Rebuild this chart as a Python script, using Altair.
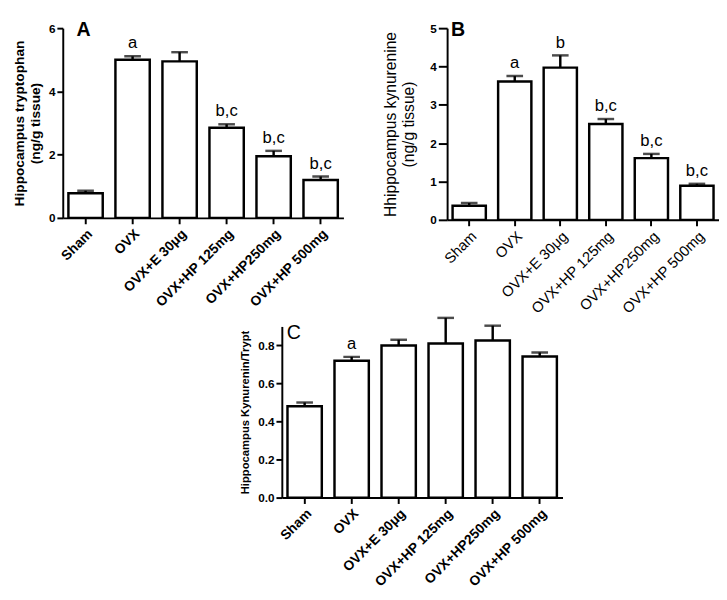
import altair as alt
import pandas as pd

cats = ["Sham", "OVX", "OVX+E 30μg", "OVX+HP 125mg", "OVX+HP250mg", "OVX+HP 500mg"]

a_mean = [0.78, 5.00, 4.95, 2.85, 1.95, 1.20]
a_sem = [0.08, 0.11, 0.29, 0.11, 0.17, 0.11]
a_sig = ["", "a", "", "b,c", "b,c", "b,c"]

b_mean = [0.37, 3.61, 3.97, 2.50, 1.61, 0.89]
b_sem = [0.07, 0.14, 0.32, 0.13, 0.11, 0.05]
b_sig = ["", "a", "b", "b,c", "b,c", "b,c"]

c_mean = [0.48, 0.72, 0.80, 0.81, 0.826, 0.742]
c_sem = [0.02, 0.02, 0.03, 0.135, 0.078, 0.021]
c_sig = ["", "a", "", "", "", ""]

FONT = "Liberation Sans"


def make_df(mean, sem, sig):
    return pd.DataFrame({
        "cat": cats,
        "mean": mean,
        "upper": [m + s for m, s in zip(mean, sem)],
        "sig": sig,
    })


def panel(df, ytitle, domain, tick_vals, fmt, letter, w, h,
          title_size, title_weight, title_pad, ytick, label_weight, label_size,
          letter_size, letter_weight, letter_x, letter_y):
    xenc = alt.X("cat:N", sort=cats, title=None,
                 scale=alt.Scale(paddingInner=0.27, paddingOuter=0.12),
                 axis=alt.Axis(labelAngle=-45, labelFont=FONT, labelFontSize=label_size,
                               labelFontWeight=label_weight, labelColor="black",
                               domainColor="black", domainWidth=2, tickColor="black",
                               tickWidth=2, tickSize=6, labelPadding=3, grid=False,
                               labelLimit=200))
    yscale = alt.Scale(domain=domain, nice=False, zero=True)
    yaxis = alt.Axis(values=tick_vals, format=fmt, title=ytitle, titleFont=FONT,
                     titleFontSize=title_size, titleFontWeight=title_weight,
                     titleColor="black", labelFont=FONT, labelFontSize=12,
                     labelFontWeight="bold", labelColor="black", domainColor="black",
                     domainWidth=2, tickColor="black", tickWidth=2, tickSize=ytick,
                     labelPadding=2, grid=False, titlePadding=title_pad,
                     labelOverlap=False)
    base = alt.Chart(df).encode(x=xenc)
    bars = base.mark_bar(fill="white", stroke="black", strokeWidth=2.5).encode(
        y=alt.Y("mean:Q", scale=yscale, axis=yaxis))
    err = base.mark_rule(color="black", strokeWidth=2.5).encode(
        y=alt.Y("mean:Q", scale=yscale, axis=yaxis), y2="upper:Q")
    cap = base.mark_tick(color="black", size=17, thickness=2.5).encode(
        y=alt.Y("upper:Q", scale=yscale, axis=yaxis))
    txt = base.mark_text(font=FONT, fontSize=17, baseline="bottom", dy=-4,
                         color="black").encode(
        y=alt.Y("upper:Q", scale=yscale, axis=yaxis), text="sig:N")
    lab = alt.Chart(pd.DataFrame({"t": [letter]})).mark_text(
        font=FONT, fontSize=letter_size, fontWeight=letter_weight, align="left",
        baseline="top", color="black").encode(
        x=alt.value(letter_x), y=alt.value(letter_y), text="t:N")
    return alt.layer(bars, err, cap, txt, lab).properties(width=w, height=h)


pa = panel(make_df(a_mean, a_sem, a_sig), ["Hippocampus tryptophan", "(ng/g tissue)"],
           [0, 6], [0, 2, 4, 6], "d", "A", 287, 194, 14, "bold", 6, 6, "bold", 14,
           20, "bold", 14, -8)
pb = panel(make_df(b_mean, b_sem, b_sig), ["Hhippocampus kynurenine", "(ng/g tissue)"],
           [0, 5], [0, 1, 2, 3, 4, 5], "d", "B", 278, 196, 16, "normal", 14, 9,
           "normal", 15, 20, "bold", 4, -8)
pc = panel(make_df(c_mean, c_sem, c_sig), "Hippocampus Kynurenin/Trypt",
           [0, 0.9], [0, 0.2, 0.4, 0.6, 0.8], ".1f", "C", 287, 175, 11.5, "bold", 7, 6,
           "bold", 14, 20, "normal", 5, -3)

spacer = alt.Chart(pd.DataFrame({"a": [0]})).mark_point(opacity=0).properties(
    width=181, height=10)

top = alt.hconcat(pa, pb, spacing=40)
bottom = alt.hconcat(spacer, pc, spacing=0)

chart = alt.vconcat(top, bottom, spacing=-21).properties(
    padding={"left": 5, "top": 6, "right": 0, "bottom": 0}
).configure_view(stroke=None)

chart.save("out.html", embed_options={"renderer": "svg", "actions": False})
